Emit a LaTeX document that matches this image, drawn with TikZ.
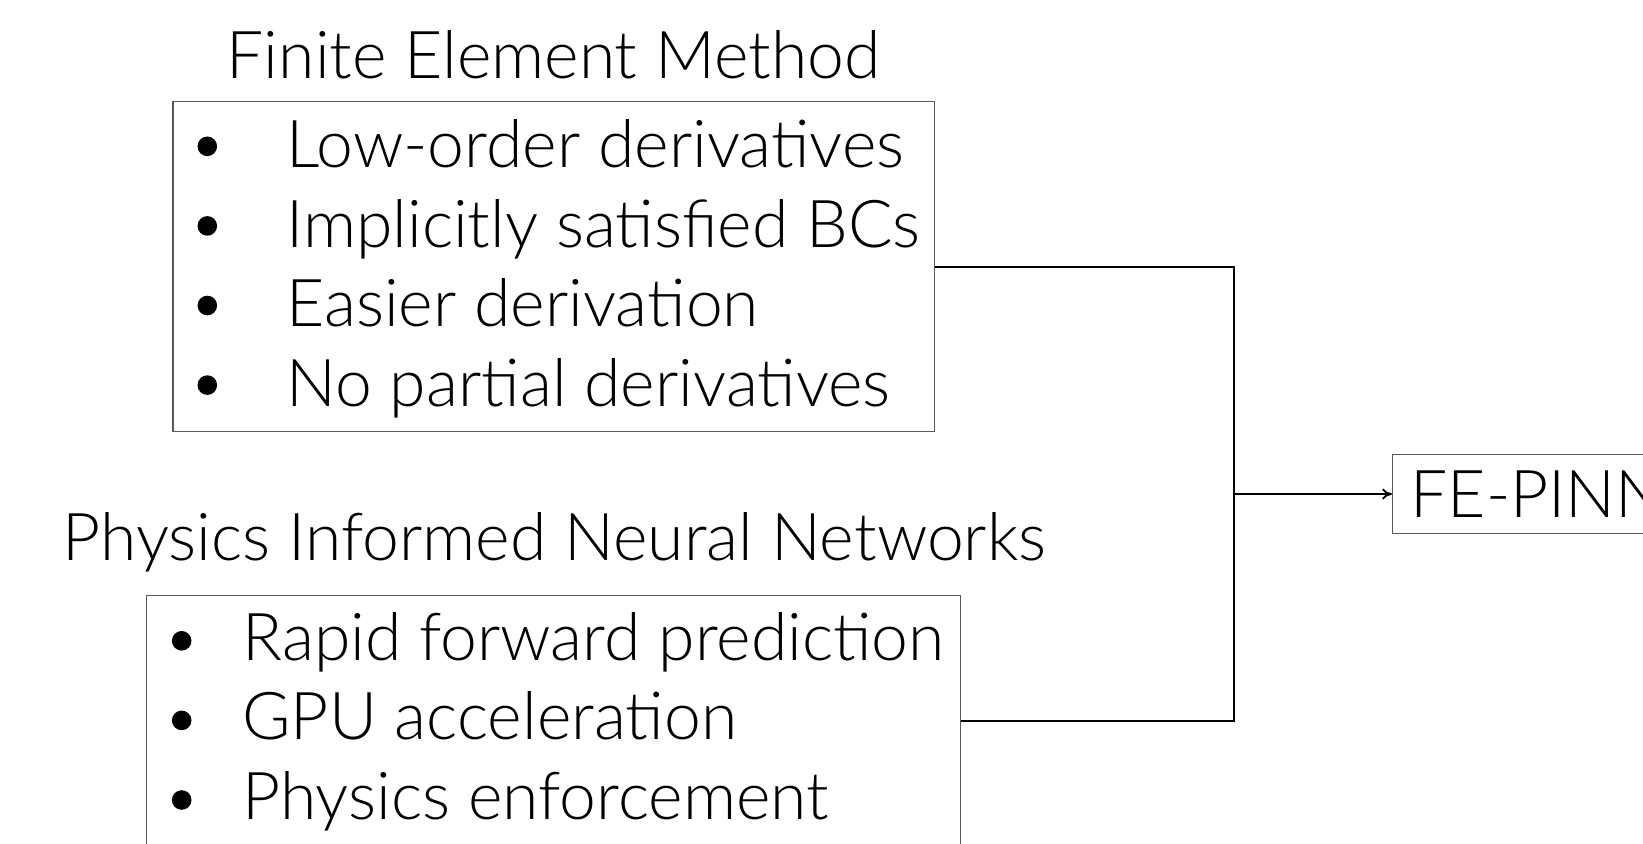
\documentclass[tikz,border=0pt]{standalone}
\usepackage{fontspec}
\setmainfont{Lato}[UprightFont=* Light]
\usetikzlibrary{arrows.meta}
\tikzset{
  txt/.style={inner sep=0pt, anchor=base west, font=\fontsize{33}{39}\selectfont},
  ttl/.style={inner sep=0pt, anchor=base, font=\fontsize{33}{39}\selectfont},
  box/.style={draw=black!65, line width=0.6pt, rectangle, inner sep=0pt},
  dot/.style={circle, fill=black, inner sep=0pt, minimum size=9.8pt},
  conn/.style={draw=black, line width=0.9pt},
}
\begin{document}
\begin{tikzpicture}[x=0.5pt, y=-0.5pt]
\useasboundingbox (0,0) rectangle (1643,844);
\clip (0,0) rectangle (1643,844);

% Finite element block
\node[ttl] (femtitle) at (553.7,78.6) {Finite Element Method};
\node[box, minimum width=380.85pt, minimum height=165.05pt] (fem) at (553.75,266.65) {};
\node[dot] (fd1) at (207.3,146.3) {};
\node[dot] (fd2) at (207.3,225.9) {};
\node[dot] (fd3) at (207.3,305.5) {};
\node[dot] (fd4) at (207.3,385.1) {};
\node[txt] (f1) at (286,167.6) {Low-order derivatives};
\node[txt] (f2) at (286,247.2) {Implicitly satisfied BCs};
\node[txt] (f3) at (286,326.8) {Easier derivation};
\node[txt] (f4) at (286,406.4) {No partial derivatives};

% PINN block
\node[ttl] (pinntitle) at (554.5,560.6) {Physics Informed Neural Networks};
\node[box, minimum width=407.05pt, minimum height=125.4pt] (pinn) at (553.75,720.6) {};
\node[dot] (pd1) at (181.7,640.8) {};
\node[dot] (pd2) at (181.7,720.4) {};
\node[dot] (pd3) at (181.7,800) {};
\node[txt] (p1) at (242,660) {Rapid forward prediction};
\node[txt] (p2) at (242,739.6) {GPU acceleration};
\node[txt] (p3) at (242,819.2) {Physics enforcement};

% Combined method
\node[box, anchor=west, inner xsep=9pt, minimum height=39.3pt,
      text height=23.8pt, text depth=0pt,
      font=\fontsize{33}{39}\selectfont] (fepinn) at (1392,494) {FE-PINN};

% Connectors
\coordinate (j) at (1234,494);
\draw[conn] (fem.east) -| (j) |- (pinn.east);
\draw[conn, -{To[length=5pt, width=5.5pt]}] (j) -- (fepinn.west);
\end{tikzpicture}
\end{document}
